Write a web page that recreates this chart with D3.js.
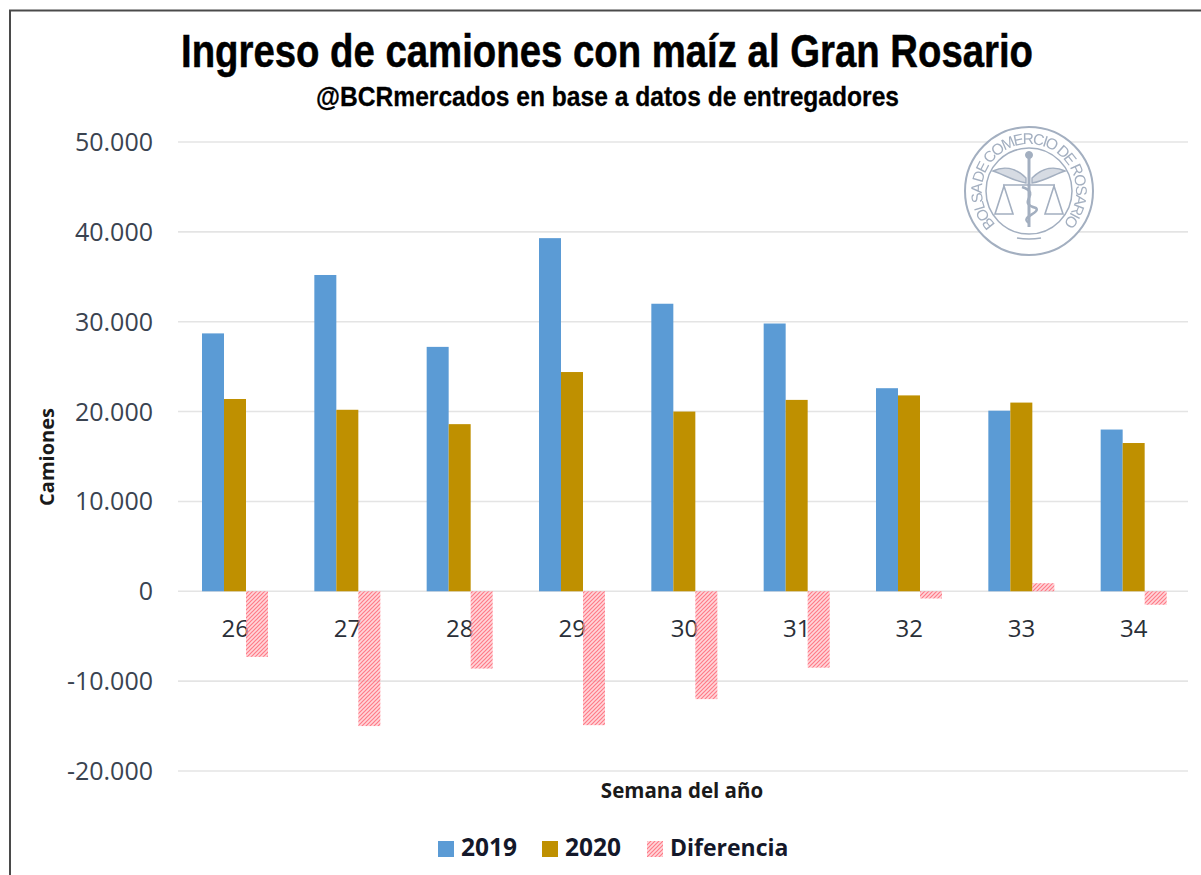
<!DOCTYPE html>
<html><head><meta charset="utf-8">
<script src="https://cdn.jsdelivr.net/npm/d3@7/dist/d3.min.js"></script>
<style>html,body{margin:0;padding:0;background:#fff}svg{display:block}</style>
</head><body><svg id="c" width="1201" height="875"></svg>
<script>
const weeks=["26","27","28","29","30","31","32","33","34"];
const y2019=[28700,35200,27200,39300,32000,29800,22600,20100,18000];
const y2020=[21400,20200,18600,24400,20000,21300,21800,21000,16500];
const diferencia=[-7300,-15000,-8600,-14900,-12000,-8500,-800,900,-1500];
const yTicks=[-20000,-10000,0,10000,20000,30000,40000,50000];
const seriesNames=["2019","2020","Diferencia"];
const seriesValues=[y2019,y2020,diferencia];
const titleText="Ingreso de camiones con maíz al Gran Rosario";
const subtitleText="@BCRmercados en base a datos de entregadores";

const svg=d3.select("#c");
const defs=svg.append("defs");
const pat=defs.append("pattern").attr("id","hatch").attr("patternUnits","userSpaceOnUse")
  .attr("width",4).attr("height",4);
pat.append("rect").attr("width",4).attr("height",4).attr("fill","#ffb4bc").attr("opacity",0.55);
pat.append("path").attr("d","M-1,1 L1,-1 M0,4 L4,0 M3,5 L5,3").attr("stroke","#ff6a78").attr("stroke-width",1.2).attr("stroke-opacity",0.85);
defs.append("filter").attr("id","soft").append("feGaussianBlur").attr("stdDeviation",0.55);

svg.append("path").attr("d","M10,875V10.5H1201").attr("fill","none").attr("stroke","#4a4a4a").attr("stroke-width",2);

const x=d3.scaleBand().domain(weeks).range([179,1190]);
const y=d3.scaleLinear().domain([-20000,50000]).range([771,142]);
const inner=d3.scaleBand().domain(seriesNames).range([23,89]);
const fmt=v=>d3.format(",")(v).replace(/,/g,".").replace("−","-");

svg.append("g").selectAll("line").data(yTicks).join("line")
  .attr("x1",178).attr("x2",1188).attr("y1",d=>y(d)).attr("y2",d=>y(d))
  .attr("stroke","#e4e4e4").attr("stroke-width",1.6);

svg.append("g").selectAll("text").data(yTicks).join("text")
  .attr("x",153).attr("y",d=>y(d)+9).attr("text-anchor","end")
  .attr("font-family","'Open Sans'").attr("font-size",25).attr("fill","#3a4350")
  .text(fmt);
svg.append("g").selectAll("text").data(weeks).join("text")
  .attr("x",d=>x(d)+x.bandwidth()/2).attr("y",637).attr("text-anchor","middle")
  .attr("font-family","'Open Sans'").attr("font-size",24).attr("fill","#2a2f38")
  .text(d=>d);

const sFill={"2019":"#5b9bd5","2020":"#bf9000","Diferencia":"url(#hatch)"};
seriesNames.forEach((n,i)=>{
  svg.append("g").selectAll("rect").data(seriesValues[i]).join("rect")
   .attr("x",(d,k)=>x(weeks[k])+inner(n))
   .attr("width",inner.bandwidth())
   .attr("y",d=>Math.min(y(d),y(0)))
   .attr("height",d=>Math.abs(y(d)-y(0)))
   .attr("fill",sFill[n]);
});

svg.append("text").attr("x",181).attr("y",67)
  .attr("textLength",852).attr("lengthAdjust","spacingAndGlyphs")
  .attr("font-family","'Liberation Sans'").attr("font-weight",700)
  .attr("font-size",46).attr("fill","#000").attr("stroke","#000").attr("stroke-width",0.5).text(titleText);
svg.append("text").attr("x",316).attr("y",106)
  .attr("textLength",583).attr("lengthAdjust","spacingAndGlyphs")
  .attr("font-family","'Liberation Sans'").attr("font-weight",700)
  .attr("font-size",28).attr("fill","#000").attr("stroke","#000").attr("stroke-width",0.3).text(subtitleText);

svg.append("text").attr("transform","translate(54,457) rotate(-90)").attr("text-anchor","middle")
  .attr("font-family","'Open Sans'").attr("font-weight",700).attr("font-size",20).attr("fill","#1a1a1a").text("Camiones");
svg.append("text").attr("x",682).attr("y",798).attr("text-anchor","middle")
  .attr("font-family","'Open Sans'").attr("font-weight",700).attr("font-size",20.5).attr("fill","#1a1a1a").text("Semana del año");

const legX={"2019":[438,461],"2020":[542,565],"Diferencia":[647,670]};
const legSize={"2019":24.5,"2020":24.5,"Diferencia":23};
const leg=svg.append("g");
seriesNames.forEach(n=>{
  leg.append("rect").attr("x",legX[n][0]).attr("y",841).attr("width",16).attr("height",16).attr("fill",sFill[n]);
  leg.append("text").attr("x",legX[n][1]).attr("y",856)
   .attr("font-family","'Open Sans'").attr("font-weight",700).attr("font-size",legSize[n]).attr("fill","#14182a").text(n);
});

// logo
const cx=1029,cy=191,col="#a3afc0";
const logo=svg.append("g").attr("filter","url(#soft)");
logo.append("circle").attr("cx",cx).attr("cy",cy).attr("r",64).attr("fill","#fff").attr("stroke",col).attr("stroke-width",2);
logo.append("circle").attr("cx",cx).attr("cy",cy).attr("r",43).attr("fill","none").attr("stroke",col).attr("stroke-width",1.5);
const r=47,s=r*Math.SQRT1_2;
defs.append("path").attr("id","arc").attr("d",`M${cx-s},${cy+s} A${r},${r} 0 1 1 ${cx+s},${cy+s}`);
logo.append("text").attr("font-family","'Liberation Sans'").attr("font-size",15.5).attr("fill",col)
  .append("textPath").attr("href","#arc").attr("startOffset","0").attr("textLength",220).attr("lengthAdjust","spacing").text("BOLSA DE COMERCIO DE ROSARIO");
const lg=logo.append("g").attr("fill","none").attr("stroke",col);
lg.append("path").attr("stroke-width",3).attr("d",`M${cx},${cy-34}V${cy+36}`);
lg.append("circle").attr("cx",cx).attr("cy",cy-36).attr("r",3.5).attr("fill",col);
lg.append("path").attr("stroke-width",1.6).attr("d",`M${cx-26},${cy-6}H${cx+26}M${cx-25},${cy-5}L${cx-34},${cy+23}H${cx-16}Z M${cx+25},${cy-5}L${cx+34},${cy+23}H${cx+16}Z M${cx-12},${cy+47}Q${cx},${cy+49} ${cx+12},${cy+47}`);
lg.append("path").attr("stroke-width",2.5).attr("d",`M${cx-7},${cy-4}C${cx+14},${cy+3} ${cx-14},${cy+11} ${cx+7},${cy+17}C${cx+12},${cy+22} ${cx-10},${cy+26} ${cx},${cy+32}`);
lg.append("path").attr("stroke-width",1.4).attr("fill",col).attr("fill-opacity",0.45).attr("d",`M${cx-3},${cy-13}C${cx-14},${cy-24} ${cx-26},${cy-25} ${cx-36},${cy-20}C${cx-26},${cy-17} ${cx-16},${cy-10} ${cx-3},${cy-8}Z M${cx+3},${cy-13}C${cx+14},${cy-24} ${cx+26},${cy-25} ${cx+36},${cy-20}C${cx+26},${cy-17} ${cx+16},${cy-10} ${cx+3},${cy-8}Z`);
</script></body></html>
